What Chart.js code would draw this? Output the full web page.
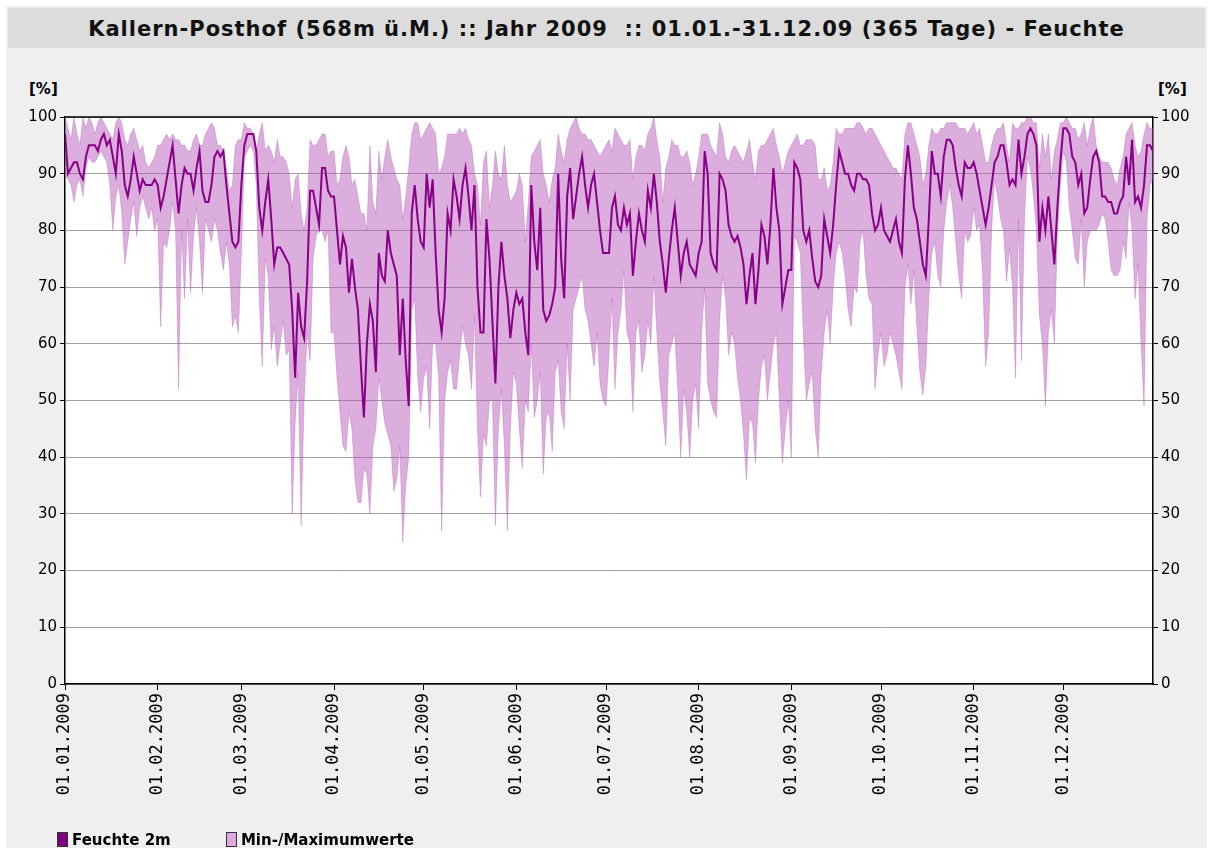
<!DOCTYPE html>
<html>
<head>
  <meta charset="utf-8">
  <script src="https://cdn.jsdelivr.net/npm/chart.js"></script>
  <style>
    body { margin: 0; background: #fff; font-family: "DejaVu Sans", Verdana, sans-serif; }
    #page { position: absolute; left: 6px; top: 6px; width: 1201px; height: 842px; background: #efefef; }
    #title {
      position: absolute; left: 2px; top: 2px; width: 1197px; height: 40px;
      background: #dcdcdc; text-align: center; font-weight: bold; font-size: 21px;
      letter-spacing: 1px; line-height: 42px; white-space: pre; color: #111;
    }
    .unit { position: absolute; top: 80px; font-weight: bold; font-size: 15px; }
    #legend { position: absolute; left: 57px; top: 831px; font-weight: bold; font-size: 15px; white-space: nowrap; }
    #legend span.box { display: inline-block; width: 9px; height: 13px; border: 1px solid #333; vertical-align: -2px; margin-right: 4px; }
    #legend span.item { margin-right: 50px; }
    #chart { position: absolute; left: 0; top: 0; }
  </style>
</head>
<body>
  <div id="page">
    <div id="title">Kallern-Posthof (568m ü.M.) :: Jahr 2009  :: 01.01.-31.12.09 (365 Tage) - Feuchte</div>
  </div>
  <div class="unit" style="left:29px">[%]</div>
  <div class="unit" style="left:1158px">[%]</div>
  <canvas id="chart" width="1213" height="852"></canvas>
  <div id="legend">
    <span class="item"><span class="box" style="background:#800080"></span>Feuchte 2m</span>
    <span class="item"><span class="box" style="background:#dcaadf"></span>Min-/Maximumwerte</span>
  </div>
  <script>
// day index of each month start and its label
const monthStart = [0, 31, 59, 90, 120, 151, 181, 212, 243, 273, 304, 334];
const monthTicks = ['01.01.2009', '01.02.2009', '01.03.2009', '01.04.2009', '01.05.2009', '01.06.2009',
                    '01.07.2009', '01.08.2009', '01.09.2009', '01.10.2009', '01.11.2009', '01.12.2009'];

// daily mean humidity, one row per month
const feuchte = [
  97,90,91,92,92,90,89,93,95,95,95,94,96,97,95,96,93,90,97,94,88,86,89,93,90,87,89,88,88,88,89,
  88,84,86,89,92,95,89,83,88,91,90,90,87,91,94,87,85,85,88,93,94,93,94,88,83,78,77,78,
  88,95,97,97,97,94,84,80,85,89,82,74,77,77,76,75,74,66,54,69,63,61,71,87,87,84,81,91,91,87,86,
  86,80,74,79,77,69,75,70,66,56,47,60,67,64,55,76,72,71,80,76,74,72,58,68,57,49,83,88,82,78,
  77,90,84,89,76,66,62,68,83,80,89,86,82,88,91,86,80,88,70,62,62,82,75,64,53,70,78,72,68,61,66,
  69,67,68,62,58,88,78,73,84,66,64,65,67,70,90,75,68,86,91,82,86,90,93,88,84,88,90,85,80,76,
  76,76,84,86,81,80,84,81,83,72,78,83,80,78,87,84,90,85,78,74,69,75,80,84,78,72,76,78,74,73,72,
  76,78,94,90,76,74,73,90,89,87,81,79,78,79,77,74,67,72,76,67,73,81,79,74,81,91,84,80,67,70,73,
  73,92,91,89,80,78,80,75,71,70,72,82,79,76,81,88,94,92,90,90,88,87,90,90,89,89,88,83,80,81,
  84,80,79,78,80,82,78,76,89,95,90,84,82,78,74,72,82,94,90,90,86,93,96,96,95,91,88,86,92,91,91,
  92,90,87,84,81,84,88,92,93,95,95,92,88,89,88,96,90,93,97,98,97,95,78,84,80,86,80,74,84,92,
  98,98,97,93,92,88,90,83,84,89,93,94,92,86,86,85,85,83,83,85,86,93,88,96,85,86,84,88,95,95,94
];

// daily minimum
const minWerte = [
  90,89,88,85,88,89,86,91,93,92,92,93,94,93,92,88,80,86,88,83,74,78,82,85,79,84,86,84,82,84,80,
  82,63,78,77,80,85,80,52,80,68,82,69,79,84,78,69,82,80,78,82,80,76,73,78,74,63,65,62,
  76,93,94,95,94,88,68,56,75,72,59,63,56,60,64,58,59,30,46,55,28,50,62,57,75,79,80,80,78,80,62,
  62,54,48,42,41,48,45,36,32,32,38,37,30,42,45,54,50,46,44,42,34,36,42,25,35,40,66,68,54,48,
  54,56,45,60,60,54,27,50,55,57,52,52,58,63,60,58,52,65,45,33,44,42,50,50,28,45,52,42,27,45,55,
  53,45,38,50,48,60,47,50,55,37,47,48,41,55,57,48,45,60,50,66,68,70,72,66,64,60,56,62,53,50,
  49,58,68,52,62,66,73,62,60,48,62,64,55,58,64,60,72,62,53,48,42,58,60,62,52,40,52,48,40,50,53,
  45,62,70,53,50,48,47,64,72,68,58,62,60,54,50,44,36,47,46,39,50,56,58,50,55,60,62,50,39,45,50,
  40,79,78,76,62,50,53,55,45,40,55,62,66,60,70,76,78,76,72,66,63,70,69,78,80,72,68,67,52,58,
  62,56,58,62,60,58,55,52,70,74,67,73,63,55,51,56,68,76,78,72,70,80,85,88,84,78,72,68,80,78,79,
  84,80,81,72,56,62,80,89,86,82,80,71,77,70,54,82,57,82,93,91,86,80,65,60,49,62,66,60,79,88,
  94,92,84,80,75,74,82,70,78,80,80,80,81,83,82,78,73,72,72,73,78,75,85,80,68,74,60,49,82,88,89
];

// daily maximum
const maxWerte = [
  100,98,96,100,97,95,100,98,100,99,97,99,100,99,98,97,96,99,100,99,96,95,97,98,96,94,95,92,91,92,93,
  95,95,96,97,96,97,96,96,95,95,94,94,96,97,95,95,97,98,99,98,95,95,94,91,87,88,95,96,
  96,99,98,98,97,94,97,99,94,95,94,92,96,93,93,92,90,84,89,90,83,80,84,96,95,95,96,97,97,93,94,
  94,88,89,93,95,93,88,89,86,83,83,80,95,85,83,94,89,93,96,93,91,89,88,82,86,91,97,99,99,96,
  97,98,99,98,97,90,91,93,97,97,97,97,98,97,98,96,95,90,88,81,92,94,84,88,94,90,89,95,88,85,86,
  87,90,88,78,85,93,94,95,96,90,88,85,89,91,97,94,92,96,98,99,100,98,97,97,96,96,95,94,93,94,
  95,96,94,98,97,96,95,95,96,89,93,95,95,94,97,98,100,96,93,85,91,93,96,95,95,93,93,94,92,88,90,
  93,97,97,97,95,94,93,99,97,93,92,94,95,94,93,92,94,96,92,89,94,95,95,96,97,98,95,93,90,92,94,
  95,96,97,95,95,96,96,96,95,89,89,91,87,88,92,98,97,97,98,98,98,98,99,99,98,97,98,98,97,96,
  95,94,93,92,91,91,90,89,97,99,99,97,95,93,88,90,95,98,97,97,98,98,99,99,99,99,98,98,98,97,98,
  99,97,98,95,92,92,95,97,98,98,99,95,92,99,98,98,99,99,100,100,99,99,91,97,93,97,89,94,96,99,
  99,100,99,98,98,96,97,99,95,98,100,95,93,92,92,92,91,89,88,91,93,97,98,99,95,93,94,97,99,98,98
];

var days = [];
for (var i = 0; i < feuchte.length; i++) days.push(i);

Chart.defaults.font.family = '"DejaVu Sans", Verdana, sans-serif';
Chart.defaults.color = '#000';

// white plot area and the black top border
const frame = {
  id: 'frame',
  beforeDraw(chart) {
    const a = chart.chartArea, c = chart.ctx;
    c.save();
    c.fillStyle = '#fff';
    c.fillRect(a.left, a.top, a.right - a.left, a.bottom - a.top);
    c.restore();
  },
  afterDraw(chart) {
    const a = chart.chartArea, c = chart.ctx;
    c.save();
    c.strokeStyle = '#000';
    c.lineWidth = 1.5;
    c.beginPath();
    c.moveTo(a.left, a.top);
    c.lineTo(a.right, a.top);
    c.stroke();
    c.restore();
  }
};

const yTickOpts = { stepSize: 10, font: { size: 15 }, color: '#000', padding: 3 };

new Chart(document.getElementById('chart').getContext('2d'), {
  type: 'line',
  data: {
    labels: days,
    datasets: [
      { label: 'Feuchte 2m', data: feuchte, borderColor: '#880088', borderWidth: 2,
        pointRadius: 0, fill: false, order: 0 },
      { label: 'Max', data: maxWerte, borderColor: 'rgba(170,80,175,0.3)', borderWidth: 1,
        backgroundColor: 'rgba(180,86,183,0.48)', pointRadius: 0, fill: '+1', order: 1 },
      { label: 'Min', data: minWerte, borderColor: 'rgba(170,80,175,0.3)', borderWidth: 1,
        pointRadius: 0, fill: false, order: 2 }
    ]
  },
  options: {
    responsive: false,
    animation: false,
    devicePixelRatio: 1,
    layout: { padding: { top: 117, left: 0, right: 0, bottom: 0 } },
    plugins: { legend: { display: false }, tooltip: { enabled: false } },
    scales: {
      x: {
        type: 'linear', min: 0, max: 364,
        afterBuildTicks: function (s) { s.ticks = monthStart.map(function (v) { return { value: v }; }); },
        afterFit: function (s) { s.height = 168; },
        ticks: {
          autoSkip: false, maxRotation: 90, minRotation: 90, padding: 3,
          font: { family: '"DejaVu Sans Mono", monospace', size: 17 }, color: '#000',
          callback: function (v) { return monthTicks[monthStart.indexOf(v)]; }
        },
        grid: { drawOnChartArea: false, color: '#000', tickLength: 6 },
        border: { color: '#000', width: 1.5 }
      },
      y: {
        min: 0, max: 100,
        ticks: yTickOpts,
        grid: { color: '#a0a0a0', tickColor: '#000', tickLength: 5 },
        border: { color: '#000', width: 1.5 },
        afterFit: function (s) { s.width = 65; }
      },
      y2: {
        position: 'right', min: 0, max: 100,
        ticks: yTickOpts,
        grid: { drawOnChartArea: false, color: '#000', tickLength: 5 },
        border: { color: '#000', width: 1.5 },
        afterFit: function (s) { s.width = 60; }
      }
    }
  },
  plugins: [frame]
});
  </script>
</body>
</html>
